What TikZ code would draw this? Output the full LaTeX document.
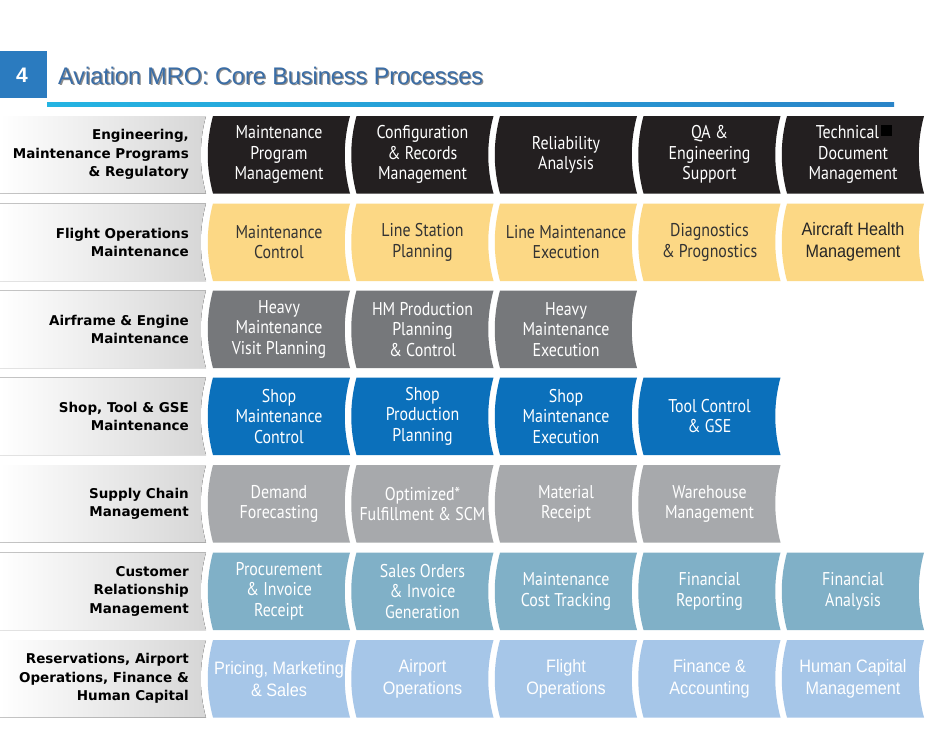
\documentclass[tikz,border=0pt]{standalone}
\usepackage{fontspec}
\newfontfamily\boxfont{PT Sans}[FakeStretch=0.86]
\newfontfamily\lblfont{DejaVu Sans}
\newfontfamily\arialfont{Liberation Sans}[FakeStretch=0.9]
\newfontfamily\titlefont{Liberation Sans}[FakeStretch=0.975]
\newfontfamily\numfont{Liberation Sans}
\definecolor{rowA}{HTML}{231F20}
\definecolor{rowB}{HTML}{FCD885}
\definecolor{rowC}{HTML}{76787B}
\definecolor{rowD}{HTML}{0B70BB}
\definecolor{rowE}{HTML}{A7A9AC}
\definecolor{rowF}{HTML}{80B0C7}
\definecolor{rowG}{HTML}{A6C6E8}
\definecolor{lblgrey}{HTML}{D6D6D6}
\definecolor{titleblue}{HTML}{3A6DA6}
\definecolor{squareblue}{HTML}{2B7BBF}
\definecolor{linecyan}{HTML}{24B4E2}
\definecolor{lineblue}{HTML}{2A84C8}
\definecolor{darktext}{HTML}{333333}
\tikzset{
  boxtext/.style={font=\boxfont\fontsize{18.5}{20.5}\selectfont, align=center, inner sep=0pt},
  ariatext/.style={font=\arialfont\fontsize{18}{22}\selectfont, align=center, inner sep=0pt},
  lbltext/.style={font=\lblfont\bfseries\fontsize{13.5}{18.5}\selectfont, align=right, inner sep=0pt, anchor=east, text=black},
  titletext/.style={font=\titlefont\fontsize{24}{30}\selectfont, anchor=base west, inner sep=0pt},
  numtext/.style={font=\numfont\bfseries\fontsize{21}{24}\selectfont, text=white, inner sep=0pt}
}
% name, left x, top y, fill colour, text style, text
\newcommand\pbox[6]{%
  \pgfmathsetmacro\xa{#2}\pgfmathsetmacro\xb{#2+137}%
  \pgfmathsetmacro\ya{#3}\pgfmathsetmacro\yb{#3+77.5}%
  \pgfmathsetmacro\yc{#3+25.8}\pgfmathsetmacro\yd{#3+51.7}%
  \pgfmathsetmacro\xbc{\xb-7}\pgfmathsetmacro\xac{\xa-7}%
  \fill[#4] (\xa,\ya) -- (\xb,\ya) .. controls (\xbc,\yc) and (\xbc,\yd) .. (\xb,\yb)
     -- (\xa,\yb) .. controls (\xac,\yd) and (\xac,\yc) .. (\xa,\ya) -- cycle;
  \node[#5] (#1) at ({#2+66},{#3+38.75}) {#6};
}
% name, top y, text
\newcommand\lblrow[3]{%
  \pgfmathsetmacro\ya{#2}\pgfmathsetmacro\yb{#2+77.5}%
  \pgfmathsetmacro\yc{#2+25.8}\pgfmathsetmacro\yd{#2+51.7}%
  \fill[left color=white, right color=lblgrey] (0,\ya) -- (206,\ya) .. controls (199,\yc) and (199,\yd) .. (206,\yb) -- (0,\yb) -- cycle;
  \node[lbltext] (#1) at (189,{#2+38.75}) {#3};
}
\begin{document}
\begin{tikzpicture}[x=1pt,y=-1pt]
\fill[white] (0,0) rectangle (942,728);
\useasboundingbox (0,0) rectangle (942,728);
% header
\fill[squareblue] (0,51) rectangle (47,98);
\node[numtext] (num) at (22,75) {4};
\shade[left color=linecyan, right color=lineblue] (47,102.5) rectangle (894,106.5);
\node[titletext, text=black!45] (titleshadow) at (59.3,85.3) {Aviation MRO: Core Business Processes};
\node[titletext, text=titleblue] (title) at (58,84) {Aviation MRO: Core Business Processes};
% row labels
\lblrow{l1}{116}{Engineering,\\Maintenance Programs\\\& Regulatory}
\lblrow{l2}{203.5}{Flight Operations\\Maintenance}
\lblrow{l3}{290.5}{Airframe \& Engine\\Maintenance}
\lblrow{l4}{377.5}{Shop, Tool \& GSE\\Maintenance}
\lblrow{l5}{465}{Supply Chain\\Management}
\lblrow{l6}{552.5}{Customer\\Relationship\\Management}
\lblrow{l7}{640}{Reservations, Airport\\Operations, Finance \&\\Human Capital}
% row 1
\pbox{r1c1}{213}{116}{rowA}{boxtext,text=white}{Maintenance\\Program\\Management}
\pbox{r1c2}{356.5}{116}{rowA}{boxtext,text=white}{Configuration\\\& Records\\Management}
\pbox{r1c3}{500}{116}{rowA}{boxtext,text=white}{Reliability\\Analysis}
\pbox{r1c4}{643.5}{116}{rowA}{boxtext,text=white}{QA \&\\Engineering\\Support}
\pbox{r1c5}{787}{116}{rowA}{boxtext,text=white}{Technical\kern11pt\\Document\\Management}
\fill[black] (881,125) rectangle (892,135.5);
% row 2
\pbox{r2c1}{213}{203.5}{rowB}{boxtext,text=darktext}{Maintenance\\Control}
\pbox{r2c2}{356.5}{203.5}{rowB}{boxtext,text=darktext}{Line Station\\Planning}
\pbox{r2c3}{500}{203.5}{rowB}{boxtext,text=darktext}{Line Maintenance\\Execution}
\pbox{r2c4}{643.5}{203.5}{rowB}{boxtext,text=darktext}{Diagnostics\\\& Prognostics}
\pbox{r2c5}{787}{203.5}{rowB}{ariatext,text=black!85}{Aircraft Health\\Management}
% row 3
\pbox{r3c1}{213}{290.5}{rowC}{boxtext,text=white}{Heavy\\Maintenance\\Visit Planning}
\pbox{r3c2}{356.5}{290.5}{rowC}{boxtext,text=white}{HM Production\\Planning\\\& Control}
\pbox{r3c3}{500}{290.5}{rowC}{boxtext,text=white}{Heavy\\Maintenance\\Execution}
% row 4
\pbox{r4c1}{213}{377.5}{rowD}{boxtext,text=white}{Shop\\Maintenance\\Control}
\pbox{r4c2}{356.5}{377.5}{rowD}{boxtext,text=white}{Shop\\Production\\Planning}
\pbox{r4c3}{500}{377.5}{rowD}{boxtext,text=white}{Shop\\Maintenance\\Execution}
\pbox{r4c4}{643.5}{377.5}{rowD}{boxtext,text=white}{Tool Control\\\& GSE}
% row 5
\pbox{r5c1}{213}{465}{rowE}{boxtext,text=white}{Demand\\Forecasting}
\pbox{r5c2}{356.5}{465}{rowE}{boxtext,text=white}{Optimized*\\Fulfillment \& SCM}
\pbox{r5c3}{500}{465}{rowE}{boxtext,text=white}{Material\\Receipt}
\pbox{r5c4}{643.5}{465}{rowE}{boxtext,text=white}{Warehouse\\Management}
% row 6
\pbox{r6c1}{213}{552.5}{rowF}{boxtext,text=white}{Procurement\\\& Invoice\\Receipt}
\pbox{r6c2}{356.5}{552.5}{rowF}{boxtext,text=white}{Sales Orders\\\& Invoice\\Generation}
\pbox{r6c3}{500}{552.5}{rowF}{boxtext,text=white}{Maintenance\\Cost Tracking}
\pbox{r6c4}{643.5}{552.5}{rowF}{boxtext,text=white}{Financial\\Reporting}
\pbox{r6c5}{787}{552.5}{rowF}{boxtext,text=white}{Financial\\Analysis}
% row 7
\pbox{r7c1}{213}{640}{rowG}{ariatext,text=white}{Pricing, Marketing\\\& Sales}
\pbox{r7c2}{356.5}{640}{rowG}{ariatext,text=white}{Airport\\Operations}
\pbox{r7c3}{500}{640}{rowG}{ariatext,text=white}{Flight\\Operations}
\pbox{r7c4}{643.5}{640}{rowG}{ariatext,text=white}{Finance \&\\Accounting}
\pbox{r7c5}{787}{640}{rowG}{ariatext,text=white}{Human Capital\\Management}
\end{tikzpicture}
\end{document}
